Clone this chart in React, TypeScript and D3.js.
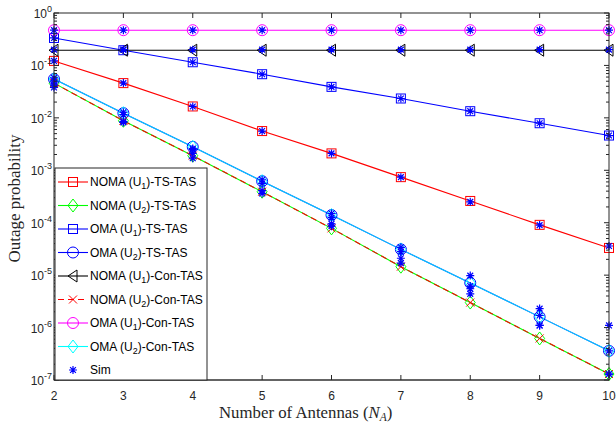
import React from "react";
import * as d3 from "d3";

const antennas = [2, 3, 4, 5, 6, 7, 8, 9, 10];
const xTicks = [2, 3, 4, 5, 6, 7, 8, 9, 10];
const yExponents = [0, -1, -2, -3, -4, -5, -6, -7];

// analytic curves
const nomaU1TS = [0.122, 0.046, 0.0165, 0.0056, 0.0021, 7.4e-4, 2.6e-4, 9.1e-5, 3.3e-5];
const nomaU2TS = [0.046, 0.0088, 0.0019, 3.9e-4, 7.8e-5, 1.45e-5, 3.0e-6, 6.2e-7, 1.3e-7];
const omaU1TS = [0.334, 0.195, 0.115, 0.068, 0.039, 0.0234, 0.0134, 0.0079, 0.0046];
const omaU2TS = [0.055, 0.0123, 0.0028, 6.2e-4, 1.4e-4, 3.1e-5, 7.1e-6, 1.6e-6, 3.6e-7];
const nomaU1Con = [0.195, 0.195, 0.195, 0.195, 0.195, 0.195, 0.195, 0.195, 0.195];
const nomaU2Con = [0.046, 0.0088, 0.0019, 3.9e-4, 7.8e-5, 1.45e-5, 3.0e-6, 6.2e-7, 1.3e-7];
const omaU1Con = [0.47, 0.47, 0.47, 0.47, 0.47, 0.47, 0.47, 0.47, 0.47];
const omaU2Con = [0.055, 0.0123, 0.0028, 6.2e-4, 1.4e-4, 3.1e-5, 7.1e-6, 1.6e-6, 3.6e-7];

// simulation points
const simSets = [
  [0.122, 0.046, 0.0165, 0.0056, 0.0021, 7.4e-4, 2.5e-4, 9.0e-5, 3.6e-5],
  [0.042, 0.0085, 0.0017, 3.6e-4, 8.6e-5, 1.7e-5, 4.4e-6, 1.1e-6, 1.3e-7],
  [0.334, 0.2, 0.115, 0.068, 0.039, 0.0234, 0.0134, 0.0079, 0.0046],
  [0.05, 0.0115, 0.0025, 5.6e-4, 1.25e-4, 3.4e-5, 9.8e-6, 2.3e-6, 1.1e-6],
  [0.2, 0.2, 0.2, 0.2, 0.2, 0.2, 0.2, 0.2, 0.2],
  [0.038, 0.0082, 0.0021, 4.1e-4, 9.5e-5, 2.1e-5, 5.5e-6, 1.1e-6, 1.3e-7],
  [0.47, 0.47, 0.47, 0.47, 0.47, 0.47, 0.47, 0.47, 0.47],
  [0.058, 0.0128, 0.0026, 6.6e-4, 1.5e-4, 2.8e-5, 6.2e-6, 1.7e-6, 3.6e-7],
];

type Marker = "square" | "diamond" | "circle" | "triangle" | "cross";

const series: { name: [string, string, string]; values: number[]; color: string; marker: Marker; dash?: string; opacity?: number }[] = [
  { name: ["NOMA (U", "1", ")-TS-TAS"], values: nomaU1TS, color: "#ff0000", marker: "square" },
  { name: ["NOMA (U", "2", ")-TS-TAS"], values: nomaU2TS, color: "#00ff00", marker: "diamond" },
  { name: ["OMA (U", "1", ")-TS-TAS"], values: omaU1TS, color: "#0000ff", marker: "square" },
  { name: ["OMA (U", "2", ")-TS-TAS"], values: omaU2TS, color: "#0000ff", marker: "circle" },
  { name: ["NOMA (U", "1", ")-Con-TAS"], values: nomaU1Con, color: "#000000", marker: "triangle" },
  { name: ["NOMA (U", "2", ")-Con-TAS"], values: nomaU2Con, color: "#ff0000", marker: "cross", dash: "6,4" },
  { name: ["OMA (U", "1", ")-Con-TAS"], values: omaU1Con, color: "#ff00ff", marker: "circle" },
  { name: ["OMA (U", "2", ")-Con-TAS"], values: omaU2Con, color: "#00ffff", marker: "diamond", opacity: 0.8 },
];

const W = 616;
const H = 426;
const m = { left: 54, right: 7, top: 13, bottom: 46 };

function MarkerShape({ type, x, y, color }: { type: Marker; x: number; y: number; color: string }) {
  const p = { fill: "none", stroke: color, strokeWidth: 1 };
  if (type === "square") return <rect x={x - 4.5} y={y - 4.5} width={9} height={9} {...p} />;
  if (type === "circle") return <circle cx={x} cy={y} r={5.5} {...p} />;
  if (type === "diamond") return <path d={`M${x},${y - 6.5}L${x + 5},${y}L${x},${y + 6.5}L${x - 5},${y}Z`} {...p} />;
  if (type === "triangle") return <path d={`M${x - 5},${y}L${x + 4},${y - 6}L${x + 4},${y + 6}Z`} {...p} />;
  return <path d={`M${x - 4},${y - 4}L${x + 4},${y + 4}M${x - 4},${y + 4}L${x + 4},${y - 4}`} {...p} />;
}

function Star({ x, y }: { x: number; y: number }) {
  const r = 4;
  const d = `M${x - r},${y}L${x + r},${y}M${x},${y - r}L${x},${y + r}M${x - 2.9},${y - 2.9}L${x + 2.9},${y + 2.9}M${x - 2.9},${y + 2.9}L${x + 2.9},${y - 2.9}`;
  return <path d={d} stroke="#0000ff" strokeWidth={1.2} fill="none" />;
}

export default function App() {
  const x = d3.scaleLinear().domain([2, 10]).range([m.left, W - m.right]);
  const y = d3.scaleLog().domain([1e-7, 1]).range([H - m.bottom, m.top]);
  const line = (vals: number[]) =>
    d3.line<number>().x((_, i) => x(antennas[i])).y((v) => y(v))(vals) as string;

  const minor: number[] = [];
  for (let e = -7; e < 0; e++) for (let k = 2; k <= 9; k++) minor.push(k * Math.pow(10, e));

  const x0 = m.left, x1 = W - m.right, y0 = m.top, y1 = H - m.bottom;
  const axisColor = "#262626";
  const tickFont = "Liberation Sans, Arial, sans-serif";
  const serif = "Liberation Serif, Times New Roman, serif";

  const legX = 55, legTop = 168, legW = 152, rowH = 23.5;

  return (
    <svg width={W} height={H} style={{ position: "absolute", left: 0, top: 0, background: "#fff" }}>
      <rect x={0} y={0} width={W} height={H} fill="#fff" />
      {/* curves */}
      {series.map((s, i) => (
        <path key={i} d={line(s.values)} fill="none" stroke={s.color} strokeWidth={1.1}
          strokeDasharray={s.dash} opacity={s.opacity ?? 1} />
      ))}
      {series.map((s, i) => (
        <g key={"m" + i}>
          {s.values.map((v, j) => (
            <MarkerShape key={j} type={s.marker} x={x(antennas[j])} y={y(v)} color={s.color} />
          ))}
        </g>
      ))}
      {simSets.map((vals, i) => (
        <g key={"s" + i}>
          {vals.map((v, j) => <Star key={j} x={x(antennas[j])} y={y(v)} />)}
        </g>
      ))}

      {/* frame */}
      <rect x={x0} y={y0} width={x1 - x0} height={y1 - y0} fill="none" stroke={axisColor} strokeWidth={1} />
      <line x1={x0} x2={x1} y1={y1} y2={y1} stroke="#555" strokeWidth={1.6} />

      {/* x ticks */}
      {xTicks.map((t) => (
        <g key={"xt" + t}>
          <line x1={x(t)} x2={x(t)} y1={y1} y2={y1 - 5} stroke={axisColor} />
          <line x1={x(t)} x2={x(t)} y1={y0} y2={y0 + 5} stroke={axisColor} />
          <text x={x(t)} y={y1 + 20} textAnchor="middle" fontFamily={tickFont} fontSize={12} fill="#262626">{t}</text>
        </g>
      ))}

      {/* y ticks */}
      {yExponents.map((e) => (
        <g key={"yt" + e}>
          <line x1={x0} x2={x0 + 5} y1={y(Math.pow(10, e))} y2={y(Math.pow(10, e))} stroke={axisColor} />
          <line x1={x1} x2={x1 - 5} y1={y(Math.pow(10, e))} y2={y(Math.pow(10, e))} stroke={axisColor} />
          <text x={x0 - 2} y={y(Math.pow(10, e)) + 5} textAnchor="end" fontFamily={tickFont} fontSize={12} fill="#262626">
            10<tspan dy={-6} fontSize={9}>{e}</tspan>
          </text>
        </g>
      ))}
      {minor.map((v, i) => (
        <g key={"mn" + i}>
          <line x1={x0} x2={x0 + 3} y1={y(v)} y2={y(v)} stroke={axisColor} />
          <line x1={x1} x2={x1 - 3} y1={y(v)} y2={y(v)} stroke={axisColor} />
        </g>
      ))}

      {/* axis labels */}
      <text x={219} y={418} fontFamily={serif} fontSize={16.8} fill="#262626">
        Number of Antennas (<tspan fontStyle="italic">N</tspan><tspan fontStyle="italic" fontSize={11.5} dy={3}>A</tspan><tspan dy={-3}>)</tspan>
      </text>
      <text transform={`translate(20,${(y0 + y1) / 2 + 2}) rotate(-90)`} textAnchor="middle"
        fontFamily={serif} fontSize={17} fill="#262626">Outage probability</text>

      {/* legend */}
      <rect x={legX} y={legTop} width={legW} height={y1 - legTop} fill="#fff" stroke={axisColor} strokeWidth={1} />
      {series.map((s, i) => {
        const cy = legTop + 14 + i * rowH;
        return (
          <g key={"lg" + i}>
            <line x1={legX + 3} x2={legX + 33} y1={cy} y2={cy} stroke={s.color} strokeWidth={1.1}
              strokeDasharray={s.dash} />
            <MarkerShape type={s.marker} x={legX + 18} y={cy} color={s.color} />
            <text x={legX + 35} y={cy + 4} fontFamily={tickFont} fontSize={12} fill="#000">
              {s.name[0]}<tspan fontSize={9} dy={3}>{s.name[1]}</tspan><tspan dy={-3}>{s.name[2]}</tspan>
            </text>
          </g>
        );
      })}
      <Star x={legX + 18} y={legTop + 14 + 8 * rowH} />
      <text x={legX + 35} y={legTop + 18 + 8 * rowH} fontFamily={tickFont} fontSize={12} fill="#000">Sim</text>
    </svg>
  );
}
